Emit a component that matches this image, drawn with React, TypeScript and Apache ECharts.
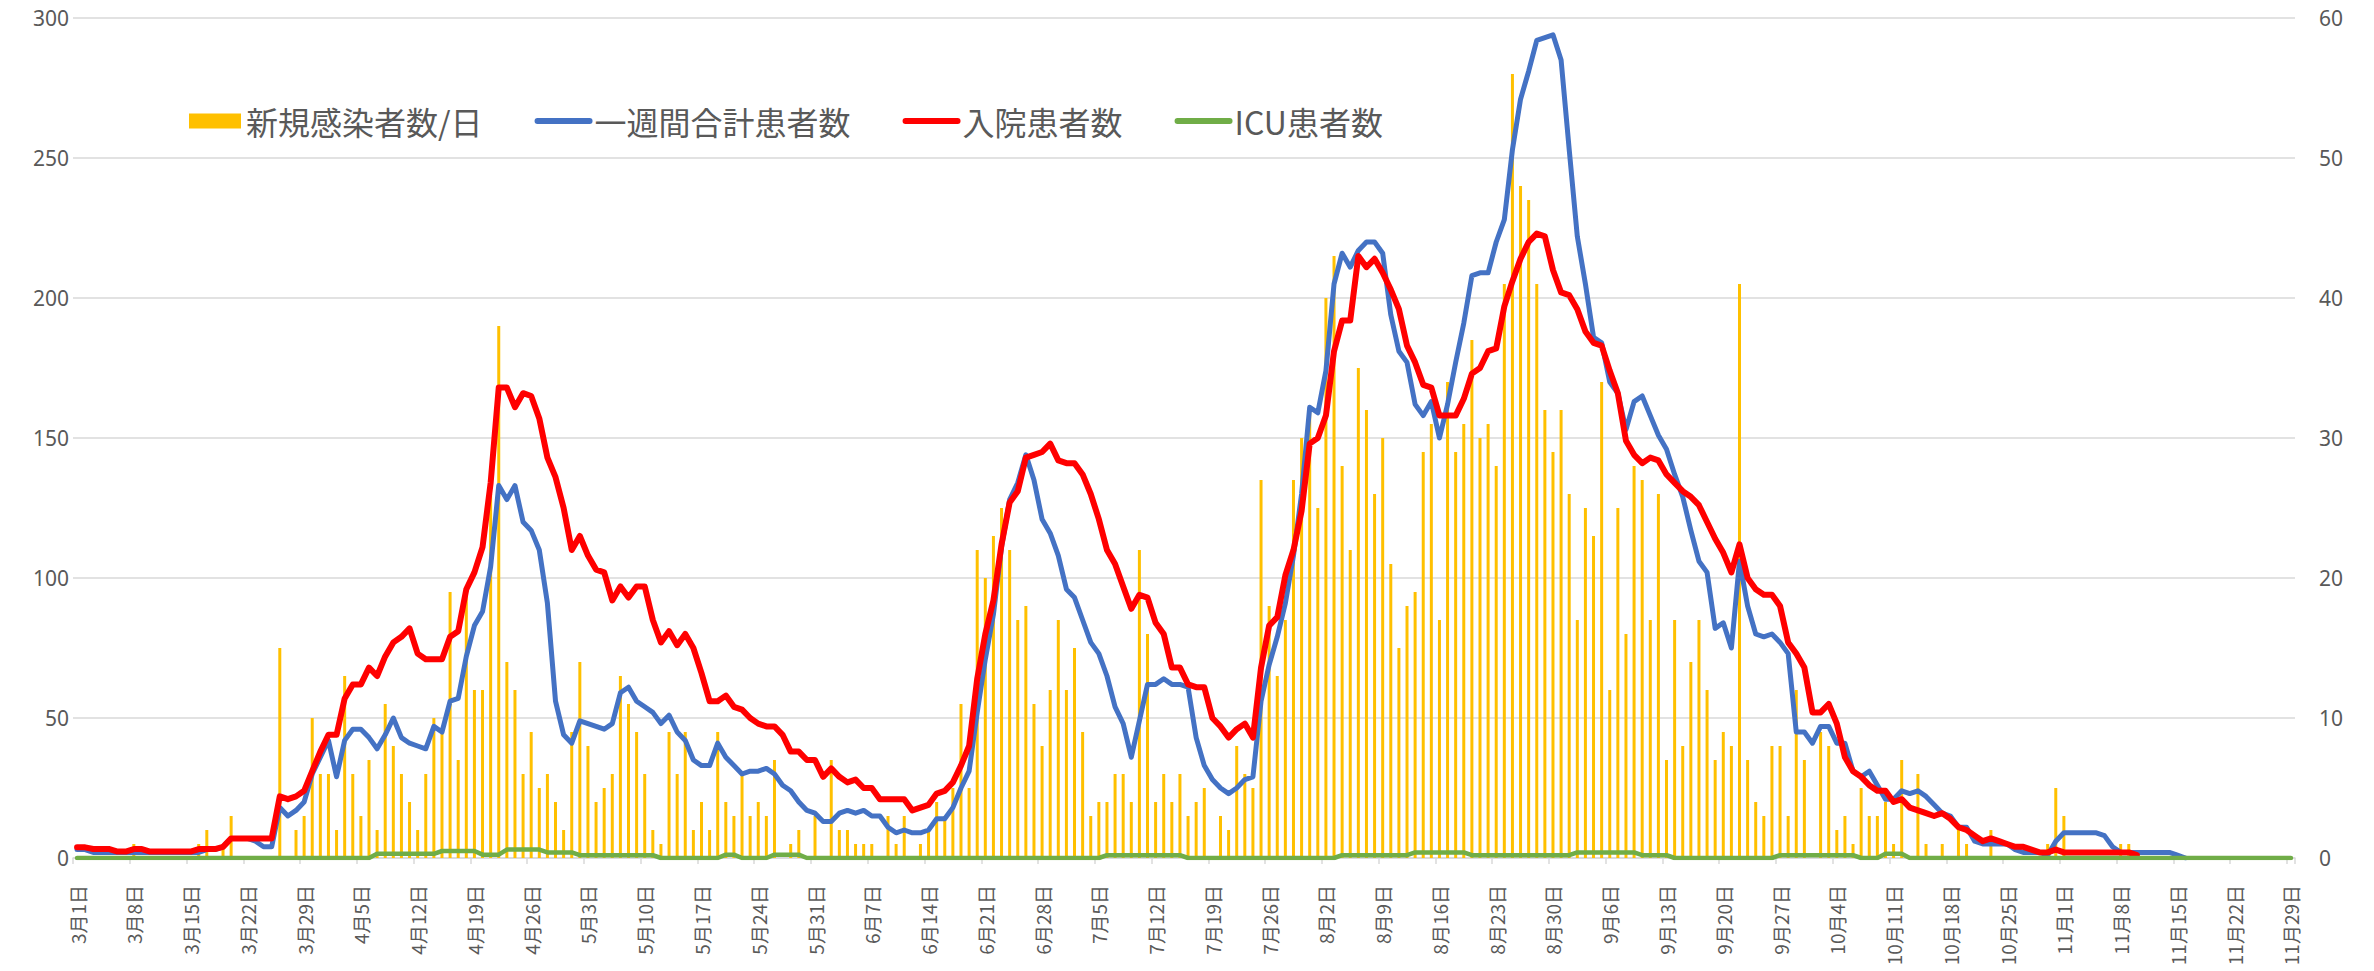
import React, { useEffect, useRef } from "react";
import * as echarts from "echarts";

// Months and their day counts (3月1日 .. 11月29日)
const months = [3, 4, 5, 6, 7, 8, 9, 10, 11];
const monthDays = [31, 30, 31, 30, 31, 31, 30, 31, 29];

const categories: string[] = [];
months.forEach((m, k) => {
  for (let d = 1; d <= monthDays[k]; d++) categories.push(`${m}月${d}日`);
});

const legendNames = ["新規感染者数/日", "一週間合計患者数", "入院患者数", "ICU患者数"];
const leftTicks = { min: 0, max: 300, interval: 50 };
const rightTicks = { min: 0, max: 60, interval: 10 };

// 新規感染者数/日 (right axis), one row per week starting 3月1日
const newCases = [
  0, 0, 0, 0, 0, 0, 0,
  1, 0, 0, 0, 0, 0, 0,
  0, 1, 2, 0, 1, 3, 0,
  0, 0, 0, 0, 15, 0, 2,
  3, 10, 6, 6, 2, 13, 6,
  3, 7, 2, 11, 8, 6, 4,
  2, 6, 10, 9, 19, 7, 19,
  12, 12, 26, 38, 14, 12, 6,
  9, 5, 6, 4, 2, 9, 14,
  8, 4, 5, 6, 13, 11, 9,
  6, 2, 1, 9, 6, 9, 2,
  4, 2, 9, 4, 3, 6, 3,
  4, 3, 7, 0, 1, 2, 0,
  3, 0, 7, 2, 2, 1, 1,
  1, 0, 3, 1, 3, 0, 1,
  2, 4, 3, 5, 11, 5, 22,
  20, 23, 25, 22, 17, 18, 11,
  8, 12, 17, 12, 15, 9, 3,
  4, 4, 6, 6, 4, 22, 16,
  4, 6, 4, 6, 3, 4, 5,
  0, 3, 2, 8, 6, 5, 27,
  18, 13, 17, 27, 30, 32, 25,
  40, 43, 28, 22, 35, 32, 26,
  30, 21, 15, 18, 19, 29, 31,
  17, 34, 29, 31, 37, 30, 31,
  28, 41, 56, 48, 47, 41, 32,
  29, 32, 26, 17, 25, 23, 34,
  12, 25, 16, 28, 27, 17, 26,
  7, 17, 8, 14, 17, 12, 7,
  9, 8, 41, 7, 4, 3, 8,
  8, 3, 12, 7, 0, 9, 8,
  2, 3, 1, 5, 3, 3, 4,
  1, 7, 0, 6, 1, 0, 1,
  0, 2, 1, 0, 0, 2, 0,
  0, 0, 0, 0, 0, 1, 5,
  3, 0, 0, 0, 0, 0, 0,
  1, 1, 0, 0, 0, 0, 0,
  0, 0, 0, 0, 0, 0, 0,
  0, 0, 0, 0, 0, 0, 0,
  0,
];

// 一週間合計患者数 (left axis)
const weeklyTotal = [
  3, 3, 2, 2, 2, 2, 2,
  2, 2, 2, 2, 2, 2, 2,
  2, 2, 3, 3, 4, 7, 7,
  7, 6, 4, 4, 18, 15, 17,
  20, 30, 36, 42, 29, 42, 46,
  46, 43, 39, 44, 50, 43, 41,
  40, 39, 47, 45, 56, 57, 72,
  83, 88, 104, 133, 128, 133, 120,
  117, 110, 91, 56, 44, 41, 49,
  48, 47, 46, 48, 59, 61, 56,
  54, 52, 48, 51, 45, 42, 35,
  33, 33, 41, 36, 33, 30, 31,
  31, 32, 30, 26, 24, 20, 17,
  16, 13, 13, 16, 17, 16, 17,
  15, 15, 11, 9, 10, 9, 9,
  10, 14, 14, 18, 25, 31, 52,
  71, 87, 111, 128, 134, 144, 135,
  121, 116, 108, 96, 93, 85, 77,
  73, 65, 54, 48, 36, 49, 62,
  62, 64, 62, 62, 61, 43, 33,
  28, 25, 23, 25, 28, 29, 56,
  69, 79, 91, 108, 130, 161, 159,
  174, 205, 216, 211, 217, 220, 220,
  216, 194, 181, 177, 162, 158, 163,
  150, 162, 177, 191, 208, 209, 209,
  220, 228, 253, 271, 281, 292, 293,
  294, 285, 253, 222, 205, 186, 184,
  170, 166, 153, 163, 165, 158, 151,
  146, 137, 129, 117, 106, 102, 82,
  84, 75, 106, 90, 80, 79, 80,
  77, 73, 45, 45, 41, 47, 47,
  41, 41, 31, 29, 31, 26, 21,
  21, 24, 23, 24, 22, 19, 16,
  15, 11, 11, 6, 5, 5, 5,
  5, 3, 2, 2, 2, 1, 6,
  9, 9, 9, 9, 9, 8, 4,
  2, 2, 2, 2, 2, 2, 2,
  1, 0, null, null, null, null, null,
  null, null, null, null, null, null, null,
  null,
];

// 入院患者数 (left axis)
const hospitalized = [
  3.8, 3.8, 3.2, 3.2, 3.2, 2.3, 2.3,
  3.2, 3.2, 2.3, 2.3, 2.3, 2.3, 2.3,
  2.3, 3.2, 3.2, 3.2, 4, 7, 7,
  7, 7, 7, 7, 22, 21, 22,
  24, 31, 38, 44, 44, 57, 62,
  62, 68, 65, 72, 77, 79, 82,
  73, 71, 71, 71, 79, 81, 96,
  102, 111, 134, 168, 168, 161, 166,
  165, 157, 143, 136, 125, 110, 115,
  108, 103, 102, 92, 97, 93, 97,
  97, 85, 77, 81, 76, 80, 75,
  66, 56, 56, 58, 54, 53, 50,
  48, 47, 47, 44, 38, 38, 35,
  35, 29, 32, 29, 27, 28, 25,
  25, 21, 21, 21, 21, 17, 18,
  19, 23, 24, 27, 33, 40, 64,
  80, 92, 112, 127, 131, 143, 144,
  145, 148, 142, 141, 141, 137, 130,
  121, 110, 105, 97, 89, 94, 93,
  84, 80, 68, 68, 62, 61, 61,
  50, 47, 43, 46, 48, 43, 68,
  83, 86, 101, 110, 124, 148, 150,
  158, 181, 192, 192, 215, 211, 214,
  209, 203, 196, 183, 177, 169, 168,
  158, 158, 158, 164, 173, 175, 181,
  182, 197, 206, 214, 220, 223, 222,
  210, 202, 201, 196, 188, 184, 183,
  174, 166, 149, 144, 141, 143, 142,
  137, 134, 131, 129, 126, 120, 114,
  109, 102, 112, 100, 96, 94, 94,
  90, 77, 73, 68, 52, 52, 55,
  48, 36, 31, 29, 26, 24, 24,
  20, 21, 18, 17, 16, 15, 16,
  14, 11, 10, 8, 6, 7, 6,
  5, 4, 4, 3, 2, 2, 3,
  2, 2, 2, 2, 2, 2, 2,
  2, 2, 1, null, null, null, null,
  null, null, null, null, null, null, null,
  null, null, null, null, null, null, null,
  null,
];

// ICU患者数 (left axis)
const icu = [
  0, 0, 0, 0, 0, 0, 0,
  0, 0, 0, 0, 0, 0, 0,
  0, 0, 0, 0, 0, 0, 0,
  0, 0, 0, 0, 0, 0, 0,
  0, 0, 0, 0, 0, 0, 0,
  0, 0, 1.5, 1.5, 1.5, 1.5, 1.5,
  1.5, 1.5, 1.5, 2.5, 2.5, 2.5, 2.5,
  2.5, 1.2, 1.2, 1.2, 3, 3, 3,
  3, 3, 2, 2, 2, 2, 1,
  1, 1, 1, 1, 1, 1, 1,
  1, 1, 0, 0, 0, 0, 0,
  0, 0, 0, 1.2, 1.2, 0, 0,
  0, 0, 1.2, 1.2, 1.2, 1.2, 0,
  0, 0, 0, 0, 0, 0, 0,
  0, 0, 0, 0, 0, 0, 0,
  0, 0, 0, 0, 0, 0, 0,
  0, 0, 0, 0, 0, 0, 0,
  0, 0, 0, 0, 0, 0, 0,
  0, 1, 1, 1, 1, 1, 1,
  1, 1, 1, 1, 0, 0, 0,
  0, 0, 0, 0, 0, 0, 0,
  0, 0, 0, 0, 0, 0, 0,
  0, 0, 1, 1, 1, 1, 1,
  1, 1, 1, 1, 2, 2, 2,
  2, 2, 2, 2, 1, 1, 1,
  1, 1, 1, 1, 1, 1, 1,
  1, 1, 1, 2, 2, 2, 2,
  2, 2, 2, 2, 1, 1, 1,
  1, 0, 0, 0, 0, 0, 0,
  0, 0, 0, 0, 0, 0, 0,
  1, 1, 1, 1, 1, 1, 1,
  1, 1, 1, 0, 0, 0, 1.5,
  1.5, 1.5, 0, 0, 0, 0, 0,
  0, 0, 0, 0, 0, 0, 0,
  0, 0, 0, 0, 0, 0, 0,
  0, 0, 0, 0, 0, 0, 0,
  0, 0, 0, 0, 0, 0, 0,
  0, 0, 0, 0, 0, 0, 0,
  0, 0, 0, 0, 0, 0, 0,
  0,
];

const GRAY_TEXT = "#595959";
const GRID = "#D9D9D9";
const CJK = "'Noto Sans CJK JP', 'Noto Sans', sans-serif";
const NUM = "'Noto Sans', 'DejaVu Sans', sans-serif";

const lineLegend = (name: string, color: string) => ({
  name,
  itemStyle: { opacity: 0 },
  lineStyle: { color, width: 6, cap: "round" },
});

export default function App() {
  const ref = useRef<HTMLDivElement>(null);

  useEffect(() => {
    document.body.style.margin = "0";
    if (!ref.current) return;
    const chart = echarts.init(ref.current, undefined, { renderer: "svg" });
    chart.setOption({
      animation: false,
      backgroundColor: "#FFFFFF",
      textStyle: { fontFamily: CJK },
      grid: { left: 73, right: 79, top: 18, bottom: 113 },
      legend: {
        left: 184,
        top: 100,
        itemWidth: 52,
        itemHeight: 15,
        itemGap: 52,
        textStyle: { fontSize: 32, color: GRAY_TEXT, fontFamily: CJK },
        data: [
          { name: legendNames[0], icon: "rect" },
          lineLegend(legendNames[1], "#4472C4"),
          lineLegend(legendNames[2], "#FF0000"),
          lineLegend(legendNames[3], "#70AD47"),
        ],
      },
      xAxis: {
        type: "category",
        data: categories,
        boundaryGap: true,
        axisLine: { show: true, lineStyle: { color: GRID, width: 1.5 } },
        axisTick: { show: true, interval: 6, length: 6, lineStyle: { color: GRID, width: 1.5 } },
        axisLabel: {
          interval: 6,
          rotate: 90,
          fontSize: 19,
          color: GRAY_TEXT,
          margin: 27,
          fontFamily: CJK,
        },
        splitLine: { show: false },
      },
      yAxis: [
        {
          type: "value",
          ...leftTicks,
          axisLine: { show: false },
          axisTick: { show: false },
          axisLabel: { fontSize: 21, color: GRAY_TEXT, margin: 4, fontFamily: NUM },
          splitLine: { show: true, lineStyle: { color: GRID, width: 1.5 } },
        },
        {
          type: "value",
          position: "right",
          ...rightTicks,
          axisLine: { show: false },
          axisTick: { show: false },
          axisLabel: { fontSize: 21, color: GRAY_TEXT, margin: 24, fontFamily: NUM },
          splitLine: { show: false },
        },
      ],
      series: [
        {
          name: legendNames[0],
          type: "bar",
          yAxisIndex: 1,
          data: newCases,
          barWidth: 3,
          itemStyle: { color: "#FFC000" },
        },
        {
          name: legendNames[1],
          type: "line",
          yAxisIndex: 0,
          data: weeklyTotal,
          symbol: "none",
          showSymbol: false,
          itemStyle: { color: "#4472C4" },
          lineStyle: { color: "#4472C4", width: 5, cap: "round", join: "round" },
        },
        {
          name: legendNames[2],
          type: "line",
          yAxisIndex: 0,
          data: hospitalized,
          symbol: "none",
          showSymbol: false,
          itemStyle: { color: "#FF0000" },
          lineStyle: { color: "#FF0000", width: 6, cap: "round", join: "round" },
        },
        {
          name: legendNames[3],
          type: "line",
          yAxisIndex: 0,
          data: icu,
          symbol: "none",
          showSymbol: false,
          itemStyle: { color: "#70AD47" },
          lineStyle: { color: "#70AD47", width: 4.5, cap: "round", join: "round" },
        },
      ],
    });
    return () => chart.dispose();
  }, []);

  return (
    <div
      ref={ref}
      style={{ position: "absolute", left: 0, top: 0, width: 2374, height: 971 }}
    />
  );
}
